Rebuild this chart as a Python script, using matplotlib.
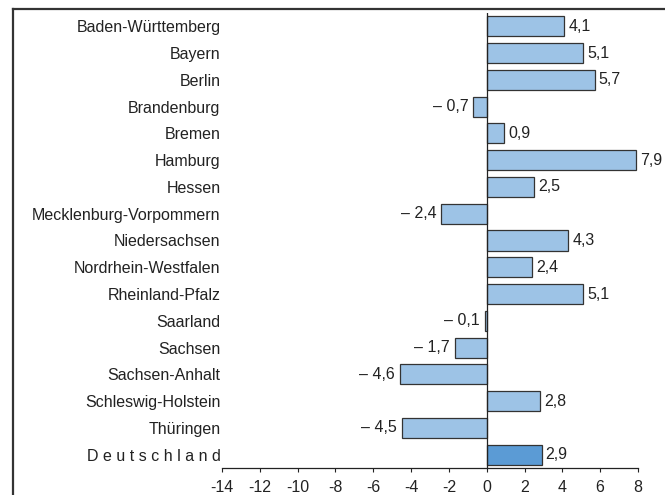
import matplotlib
matplotlib.use("Agg")
import matplotlib.pyplot as plt
from matplotlib.lines import Line2D

categories = ["Baden-Württemberg", "Bayern", "Berlin", "Brandenburg", "Bremen",
              "Hamburg", "Hessen", "Mecklenburg-Vorpommern", "Niedersachsen",
              "Nordrhein-Westfalen", "Rheinland-Pfalz", "Saarland", "Sachsen",
              "Sachsen-Anhalt", "Schleswig-Holstein", "Thüringen", "Deutschland"]
values = [4.1, 5.1, 5.7, -0.7, 0.9, 7.9, 2.5, -2.4, 4.3, 2.4, 5.1, -0.1, -1.7,
          -4.6, 2.8, -4.5, 2.9]
xticks = [-14, -12, -10, -8, -6, -4, -2, 0, 2, 4, 6, 8]

plt.rcParams['font.family'] = ['Liberation Sans', 'DejaVu Sans']
txt = '#222222'
fs = 11.5

fig = plt.figure(figsize=(6.65, 4.95), dpi=100)
ax = fig.add_axes([222/665, (495-468)/495, (638-222)/665, (468-13)/495])

light = '#9DC3E6'
dark = '#5B9BD5'
colors = [light]*(len(values)-1) + [dark]
ypos = list(range(len(values)))
ax.barh(ypos, values, height=0.75, color=colors, edgecolor='#333333', linewidth=0.9, zorder=2)

for y, v in zip(ypos, values):
    s = f"{abs(v):.1f}".replace('.', ',')
    if v >= 0:
        ax.annotate(s, (v, y), xytext=(3, 0), textcoords='offset points',
                    ha='left', va='center', fontsize=fs, color=txt)
    else:
        ax.annotate('– ' + s, (v, y), xytext=(-3.5, 0), textcoords='offset points',
                    ha='right', va='center', fontsize=fs, color=txt)

ax.axvline(0, color='#222222', linewidth=0.9, zorder=3)
ax.set_xlim(-14, 8)
ax.set_ylim(len(values)-0.5, -0.5)
ax.set_xticks(xticks)
ax.set_xticklabels([str(t) for t in xticks])
labels = categories[:-1] + [' '.join(categories[-1])]
ax.set_yticks(ypos)
ax.set_yticklabels(labels)
ax.tick_params(axis='y', length=0, pad=1, labelsize=fs, labelcolor=txt)
ax.tick_params(axis='x', length=3, width=0.8, direction='out', pad=5.5,
               labelsize=fs, labelcolor=txt, color='#222222')
for sp in ['left', 'right', 'top']:
    ax.spines[sp].set_visible(False)
ax.spines['bottom'].set_color('#222222')
ax.spines['bottom'].set_linewidth(0.9)

# figure frame
fig.add_artist(Line2D([13/665, 1.0], [(495-9)/495]*2, transform=fig.transFigure,
                      color='#333333', linewidth=1.6))
fig.add_artist(Line2D([13/665]*2, [0, (495-9)/495], transform=fig.transFigure,
                      color='#333333', linewidth=1.6))

fig.savefig('out.png', dpi=100)
